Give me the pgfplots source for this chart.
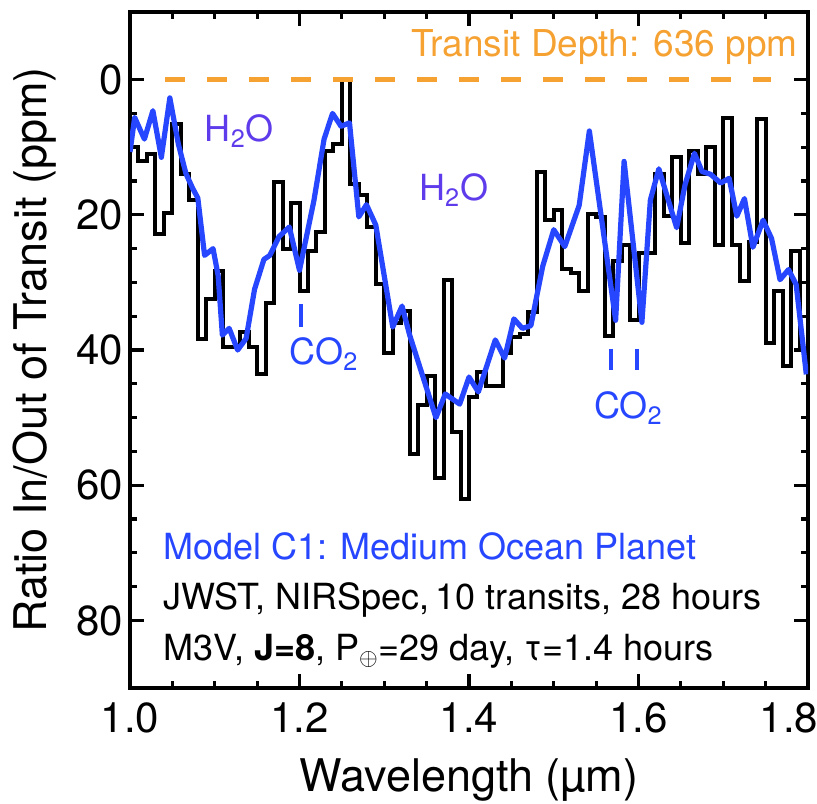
\documentclass[border=0pt]{standalone}
\usepackage{fontspec}
\setmainfont{TeX Gyre Heros}
\usepackage{pgfplots}
\pgfplotsset{compat=1.18}

\definecolor{modelblue}{RGB}{38,70,255}
\definecolor{molpurple}{RGB}{95,60,235}
\definecolor{depthorange}{RGB}{245,162,50}

\begin{document}
\begin{tikzpicture}
\begin{axis}[
    name=ax,
    scale only axis,
    width=339pt, height=338pt,
    xmin=1.0, xmax=1.8,
    ymin=-10, ymax=90,
    y dir=reverse,
    xtick={1.0,1.2,1.4,1.6,1.8},
    xticklabels={1.0,1.2,1.4,1.6,{\hspace*{-19pt}1.8}},
    ytick={0,20,40,60,80},
    minor x tick num=3,
    minor y tick num=3,
    xtick pos=both, ytick pos=both,
    xticklabel pos=lower, yticklabel pos=left,
    tick align=inside,
    major tick length=7pt,
    minor tick length=3.5pt,
    axis line style={line width=2pt},
    every tick/.style={black, line width=1.6pt},
    /pgf/number format/assume math mode=true,
    tick label style={font=\fontsize{21}{25}\selectfont},
    xticklabel style={yshift=-4pt},
    xlabel={Wavelength (µm)},
    ylabel={Ratio In/Out of Transit (ppm)},
    every axis x label/.style={at={(rel axis cs:0.5,0)}, anchor=center, yshift=-46pt,
        font=\fontsize{22.5}{27}\selectfont},
    every axis y label/.style={at={(rel axis cs:0,0.5)}, anchor=center, xshift=-47.5pt, rotate=90,
        font=\fontsize{22.5}{27}\selectfont},
]

% binned simulated spectrum (left bin edges, 0.01 um bins)
\addplot[const plot, black, line width=2pt] coordinates {
(1.00,10.0) (1.01,12.0) (1.02,11.0) (1.03,22.9) (1.04,19.8)
(1.05,6.6) (1.06,13.9) (1.07,17.8) (1.08,38.3) (1.09,32.4)
(1.10,28.3) (1.11,39.5) (1.12,39.5) (1.13,37.3) (1.14,39.5)
(1.15,43.5) (1.16,33.0) (1.17,15.1) (1.18,25.0) (1.19,18.2)
(1.20,31.3) (1.21,25.4) (1.22,22.6) (1.23,10.5) (1.24,9.5)
(1.25,0.0) (1.26,15.4) (1.27,17.0) (1.28,21.8) (1.29,30.2)
(1.30,40.4) (1.31,36.0) (1.32,34.2) (1.33,55.4) (1.34,48.2)
(1.35,43.8) (1.36,59.0) (1.37,29.6) (1.38,52.1) (1.39,62.0)
(1.40,47.0) (1.41,43.2) (1.42,45.3) (1.43,45.3) (1.44,40.4)
(1.45,38.0) (1.46,37.6) (1.47,34.4) (1.48,13.7) (1.49,20.8)
(1.50,19.3) (1.51,28.0) (1.52,28.6) (1.53,31.2) (1.54,19.9)
(1.55,20.3) (1.56,37.9) (1.57,26.9) (1.58,24.4) (1.59,35.6)
(1.60,25.7) (1.61,25.6) (1.62,14.0) (1.63,20.2) (1.64,11.5)
(1.65,24.2) (1.66,10.5) (1.67,14.0) (1.68,10.0) (1.69,24.5)
(1.70,5.7) (1.71,24.5) (1.72,29.8) (1.73,24.0) (1.74,5.9)
(1.75,38.9) (1.76,31.3) (1.77,42.4) (1.78,25.4) (1.79,40.0)
(1.80,40.0)
};

% model spectrum
\addplot[modelblue, line width=2.6pt, line join=round] coordinates {
(1.000,10.7) (1.0055,5.6) (1.017,8.8) (1.027,4.6) (1.037,11.5)
(1.047,2.7) (1.057,9.5) (1.066,13.9) (1.074,16.1) (1.080,17.5)
(1.088,26.0) (1.098,25.0) (1.104,29.0) (1.109,37.8) (1.117,36.8)
(1.127,40.0) (1.137,38.3) (1.147,31.0) (1.158,26.6) (1.165,26.0)
(1.176,23.2) (1.188,21.8) (1.200,28.2) (1.217,17.9) (1.229,8.8)
(1.239,5.0) (1.249,6.9) (1.259,6.4) (1.270,20.3) (1.279,18.5)
(1.290,21.5) (1.310,36.6) (1.321,33.5) (1.330,37.8) (1.361,50.0)
(1.372,46.5) (1.389,48.0) (1.400,44.0) (1.411,46.2) (1.431,38.5)
(1.442,41.2) (1.453,35.4) (1.463,36.8) (1.473,36.4) (1.487,27.6)
(1.500,22.2) (1.513,24.7) (1.530,18.6) (1.542,7.6) (1.573,35.6)
(1.583,12.1) (1.604,35.9) (1.614,17.8) (1.624,13.2) (1.645,21.9)
(1.655,15.5) (1.666,10.9) (1.675,13.6) (1.685,14.0) (1.697,15.3)
(1.707,14.6) (1.716,20.2) (1.725,17.6) (1.735,24.8) (1.747,20.8)
(1.757,23.5) (1.767,29.6) (1.777,28.1) (1.786,30.3) (1.798,43.6)
};

% transit depth reference
\addplot[depthorange, line width=2.6pt, dash pattern=on 10pt off 11pt] coordinates {(1.0412,0) (1.7565,0)};

% CO2 markers
\addplot[modelblue, line width=2pt] coordinates {(1.202,33.2) (1.202,36.6)};
\addplot[modelblue, line width=2pt] coordinates {(1.568,39.8) (1.568,43.0)};
\addplot[modelblue, line width=2pt] coordinates {(1.598,39.8) (1.598,43.0)};

\node[molpurple, font=\fontsize{18}{22}\selectfont] at (axis cs:1.129,7.6) {H\textsubscript{2}O};
\node[molpurple, font=\fontsize{18}{22}\selectfont] at (axis cs:1.382,16.4) {H\textsubscript{2}O};
\node[modelblue, font=\fontsize{18}{22}\selectfont] at (axis cs:1.229,40.6) {CO\textsubscript{2}};
\node[modelblue, font=\fontsize{18}{22}\selectfont] at (axis cs:1.588,48.6) {CO\textsubscript{2}};

\node[depthorange, anchor=east, inner sep=0pt, font=\fontsize{18.5}{22}\selectfont] at (axis cs:1.788,-4.8) {Transit Depth: 636 ppm};

\node[modelblue, anchor=west, inner sep=0pt, font=\fontsize{18}{22}\selectfont] at (axis cs:1.0388,69.1) {Model C1: Medium Ocean Planet};
\node[black, anchor=west, inner sep=0pt, font=\fontsize{18}{22}\selectfont] at (axis cs:1.0388,77.0) {JWST, NIRSpec,\,10 transits, 28 hours};
\node[black, anchor=west, inner sep=0pt, font=\fontsize{18}{22}\selectfont] at (axis cs:1.0388,84.6) {M3V, \textbf{J=8}, P$_\oplus$=29 day, τ=1.4 hours};

\end{axis}
\pgfresetboundingbox
\path ([xshift=-65pt,yshift=-57.5pt]ax.south west) rectangle ([xshift=4.5pt,yshift=6pt]ax.north east);
\end{tikzpicture}
\end{document}
